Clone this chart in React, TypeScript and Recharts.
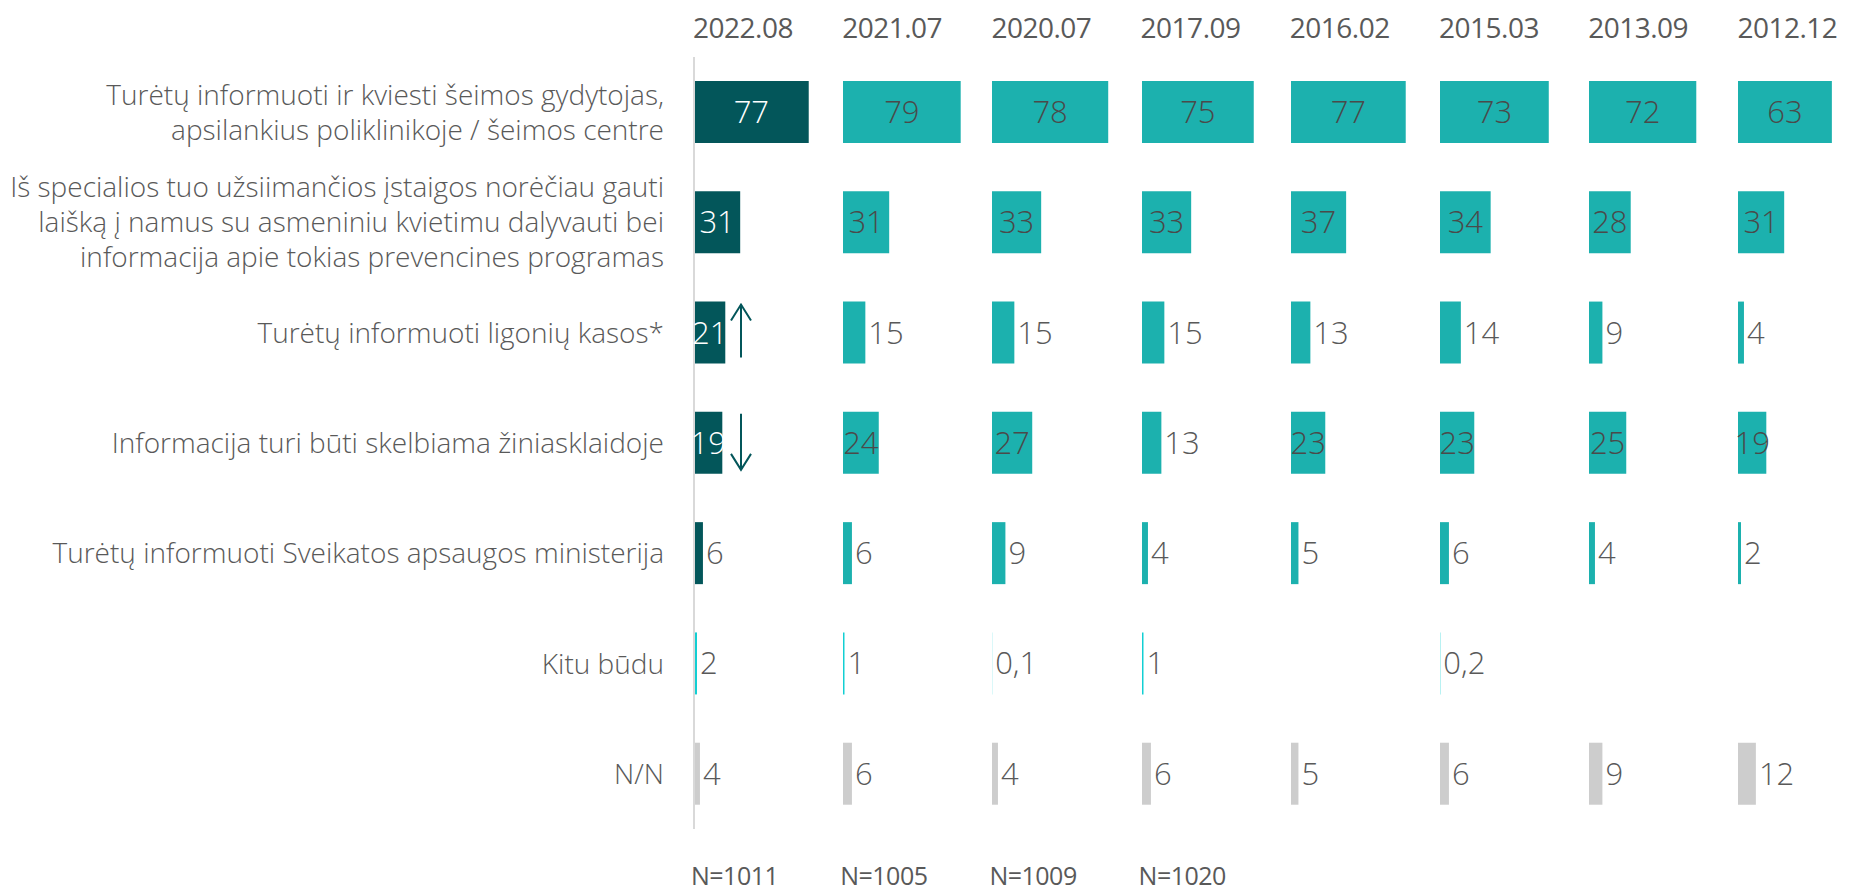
import { BarChart, Bar, XAxis, YAxis, Cell, LabelList } from "recharts";

const categories = [
  "Turėtų informuoti ir kviesti šeimos gydytojas,\napsilankius poliklinikoje / šeimos centre",
  "Iš specialios tuo užsiimančios įstaigos norėčiau gauti\nlaišką į namus su asmeniniu kvietimu dalyvauti bei\ninformacija apie tokias prevencines programas",
  "Turėtų informuoti ligonių kasos*",
  "Informacija turi būti skelbiama žiniasklaidoje",
  "Turėtų informuoti Sveikatos apsaugos ministerija",
  "Kitu būdu",
  "N/N"
];

const waves = ["2022.08", "2021.07", "2020.07", "2017.09", "2016.02", "2015.03", "2013.09", "2012.12"];

const w2022_08 = [77, 31, 21, 19, 6, 2, 4];
const w2021_07 = [79, 31, 15, 24, 6, 1, 6];
const w2020_07 = [78, 33, 15, 27, 9, 0.1, 4];
const w2017_09 = [75, 33, 15, 13, 4, 1, 6];
const w2016_02 = [77, 37, 13, 23, 5, null, 5];
const w2015_03 = [73, 34, 14, 23, 6, 0.2, 6];
const w2013_09 = [72, 28, 9, 25, 4, null, 9];
const w2012_12 = [63, 31, 4, 19, 2, null, 12];

const waveValues = [w2022_08, w2021_07, w2020_07, w2017_09, w2016_02, w2015_03, w2013_09, w2012_12];

// change vs previous wave, only marked for the latest one
const trend2022 = ["", "", "up", "down", "", "", ""];

const sampleSizes = ["N=1011", "N=1005", "N=1009", "N=1020"];

const DARK = "#03565a";
const TEAL = "#1cb1ae";
const CYAN = "#12cfd3";
const GREY = "#cdcdcd";
const TEXT = "#595959";
const FONT = "'Open Sans', sans-serif";

const AXIS_W = 694;
const COL_STEP = 149.2;
const COL_W = 149;
const PAD = 14; // spare room so centred labels can spill past the bar's left edge

function barColor(col: number, row: number) {
  if (row === 6) return GREY;
  if (row === 5) return CYAN;
  return col === 0 ? DARK : TEAL;
}

function CategoryTick(props: any) {
  const { x, y, payload } = props;
  const lines = String(payload.value).split("\n");
  const lh = 35;
  return (
    <text x={x} y={y} textAnchor="end" fill={TEXT} fontFamily={FONT} fontWeight={300} fontSize={28}>
      {lines.map((ln, i) => (
        <tspan key={i} x={x} dy={i === 0 ? -((lines.length - 1) / 2) * lh + 10 : lh}>
          {ln}
        </tspan>
      ))}
    </text>
  );
}

function makeLabel(col: number) {
  return (props: any) => {
    const { x, y, width, height, value, index } = props;
    if (value == null) return null;
    const inside = width >= 25;
    const txt = String(value).replace(".", ",");
    const cy = y + height / 2 + 11;
    const fill = inside ? (col === 0 ? "#ffffff" : "#4a4a4a") : TEXT;
    const arrow = col === 0 ? trend2022[index] : "";
    const ax = x + 47;
    return (
      <g>
        <text
          x={inside ? x + width / 2 : x + width + 3}
          y={cy}
          textAnchor={inside ? "middle" : "start"}
          fill={fill}
          fontFamily={FONT}
          fontWeight={300}
          fontSize={31}
        >
          {txt}
        </text>
        {arrow === "up" && (
          <path
            d={`M${ax},${y + height - 6} L${ax},${y + 3} M${ax - 10},${y + 19} L${ax},${y + 3} L${ax + 10},${y + 19}`}
            stroke={DARK}
            strokeWidth={2}
            fill="none"
          />
        )}
        {arrow === "down" && (
          <path
            d={`M${ax},${y + 2} L${ax},${y + height - 4} M${ax - 10},${y + height - 20} L${ax},${y + height - 4} L${ax + 10},${y + height - 20}`}
            stroke={DARK}
            strokeWidth={2}
            fill="none"
          />
        )}
      </g>
    );
  };
}

function WaveChart({ col }: { col: number }) {
  const vals = waveValues[col];
  const data = categories.map((c, i) => ({ cat: c, v: vals[i] }));
  const first = col === 0;
  const left = first ? 0 : AXIS_W + COL_STEP * col - PAD;
  return (
    <div style={{ position: "absolute", left, top: 0 }}>
      <BarChart
        layout="vertical"
        width={first ? AXIS_W + COL_W : COL_W + PAD}
        height={893}
        data={data}
        margin={{ top: 57, bottom: 64, left: first ? 0 : PAD, right: 0 }}
      >
        <XAxis type="number" hide domain={[0, 100]} />
        <YAxis
          type="category"
          dataKey="cat"
          hide={!first}
          width={AXIS_W}
          tickLine={false}
          tickSize={0}
          tickMargin={30}
          axisLine={{ stroke: "#d9d9d9", strokeWidth: 2 }}
          tick={<CategoryTick />}
          interval={0}
        />
        <Bar dataKey="v" barSize={62} isAnimationActive={false}>
          {data.map((_, i) => (
            <Cell key={i} fill={barColor(col, i)} />
          ))}
          <LabelList dataKey="v" content={makeLabel(col)} />
        </Bar>
      </BarChart>
    </div>
  );
}

export default function App() {
  return (
    <div style={{ position: "absolute", left: 0, top: 0, width: 1853, height: 893, background: "#fff", overflow: "hidden" }}>
      {waves.map((w, i) => (
        <WaveChart key={w} col={i} />
      ))}
      {waves.map((w, i) => (
        <div
          key={"h" + w}
          style={{
            position: "absolute",
            left: AXIS_W + COL_STEP * i - 1,
            top: 12,
            fontFamily: FONT,
            fontSize: 28,
            lineHeight: "30px",
            color: TEXT,
            letterSpacing: -0.5
          }}
        >
          {w}
        </div>
      ))}
      {sampleSizes.map((n, i) => (
        <div
          key={"n" + i}
          style={{
            position: "absolute",
            left: AXIS_W + COL_STEP * i - 3,
            top: 862,
            fontFamily: FONT,
            fontSize: 25,
            lineHeight: "26px",
            color: TEXT,
            letterSpacing: -0.5
          }}
        >
          {n}
        </div>
      ))}
    </div>
  );
}
